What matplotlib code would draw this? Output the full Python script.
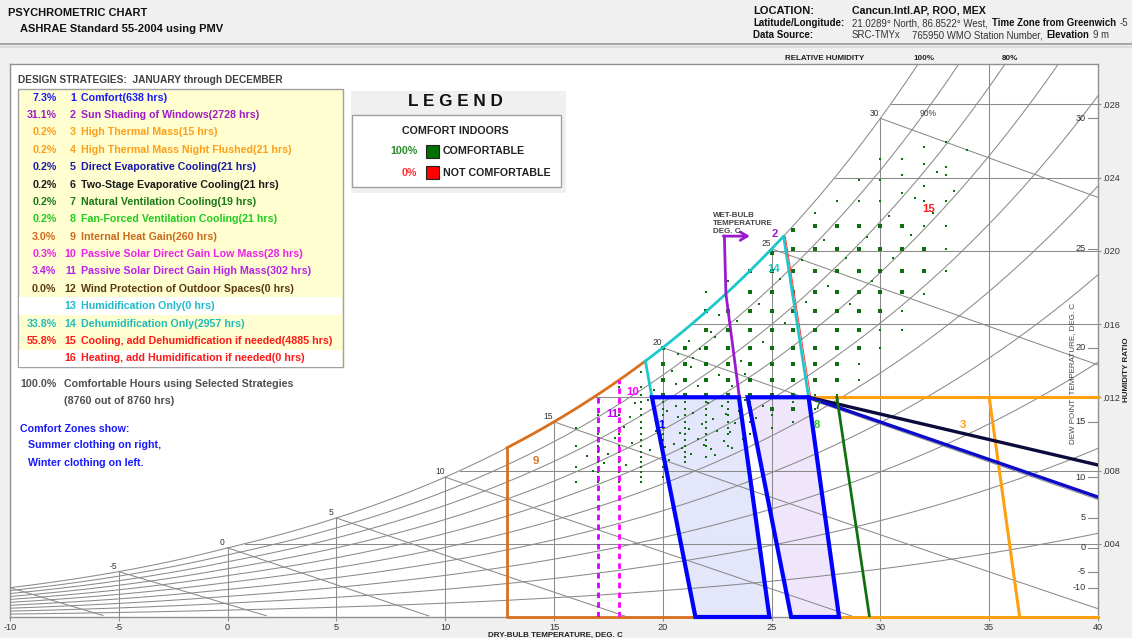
import numpy as np
import matplotlib
matplotlib.use('Agg')
import matplotlib.pyplot as plt
from matplotlib.patches import Rectangle, Polygon
from matplotlib import font_manager as fm

# ---------------- chart data ----------------
rh_levels = [0.1, 0.2, 0.3, 0.4, 0.5, 0.6, 0.7, 0.8, 0.9]
db_lines = [-5, 0, 5, 10, 15, 20, 25, 30, 35]
w_lines = [0.004, 0.008, 0.012, 0.016, 0.020, 0.024, 0.028]
w_labels = ['.004', '.008', '.012', '.016', '.020', '.024', '.028']
wb_lines = [-10, -5, 0, 5, 10, 15, 20, 25, 30]
sat_labels = [-5, 0, 5, 10, 15, 20, 25, 30]
dp_ticks = [30, 25, 20, 15, 10, 5, 0, -5, -10]
x_ticks = [-10, -5, 0, 5, 10, 15, 20, 25, 30, 35, 40]

strategy_pct = ['7.3%', '31.1%', '0.2%', '0.2%', '0.2%', '0.2%', '0.2%', '0.2%',
                '3.0%', '0.3%', '3.4%', '0.0%', '', '33.8%', '55.8%', '']
strategy_names = ['Comfort(638 hrs)', 'Sun Shading of Windows(2728 hrs)',
                  'High Thermal Mass(15 hrs)', 'High Thermal Mass Night Flushed(21 hrs)',
                  'Direct Evaporative Cooling(21 hrs)', 'Two-Stage Evaporative Cooling(21 hrs)',
                  'Natural Ventilation Cooling(19 hrs)', 'Fan-Forced Ventilation Cooling(21 hrs)',
                  'Internal Heat Gain(260 hrs)', 'Passive Solar Direct Gain Low Mass(28 hrs)',
                  'Passive Solar Direct Gain High Mass(302 hrs)',
                  'Wind Protection of Outdoor Spaces(0 hrs)', 'Humidification Only(0 hrs)',
                  'Dehumidification Only(2957 hrs)',
                  'Cooling, add Dehumidfication if needed(4885 hrs)',
                  'Heating, add Humidification if needed(0 hrs)']
strategy_colors = ['#1a1aff', '#a01ec8', '#ff9f1a', '#ff9f1a', '#1a1aa8', '#1a1a1a',
                   '#1a7a1a', '#22cc22', '#cc6a22', '#ee22ee', '#bb22ee', '#5a3a10',
                   '#22bbcc', '#22bbbb', '#ff1a1a', '#ff1a1a']
strategy_selected = [1, 1, 1, 1, 1, 1, 1, 1, 1, 1, 1, 1, 0, 1, 1, 0]

# design zones (dry bulb degC, humidity ratio kg/kg)
winter_db = [19.5, 23.5, 24.9, 21.5]
winter_w = [0.012, 0.012, 0.0, 0.0]
summer_db = [23.9, 26.7, 28.1, 25.9]
summer_w = [0.012, 0.012, 0.0, 0.0]
dehum_low_db = 19.5
dehum_sat_db = [19.2, 25.55]
dehum_right_db = 26.7
shade_db = [23.52, 22.9, 22.83]
shade_top_w = 0.0208
shade_arrow_db = 24.0
mass_db = [35.0, 36.4]
evap_end_w = 0.00655
twostage_end_w = 0.0083
natvent_db = [28.0, 29.5]
heatgain_db = 12.85
passive_low_db = 18.0
passive_high_db = 17.0
zone_top_w = 0.012

# hourly climate points (dry bulb, dew point) - frequent grid points
freq_db = [20, 20, 20, 20,
           21, 21, 21, 21,
           22, 22, 22, 22, 22, 22,
           23, 23, 23, 23, 23, 23,
           24, 24, 24, 24, 24, 24, 24, 24, 24,
           25, 25, 25, 25, 25, 25, 25, 25, 25, 25,
           26, 26, 26, 26, 26, 26, 26, 26, 26, 26, 26,
           27, 27, 27, 27, 27, 27, 27, 27, 27,
           28, 28, 28, 28, 28, 28, 28, 28, 28,
           29, 29, 29, 29, 29, 29, 29,
           30, 30, 30, 30, 30,
           31, 31, 31, 31,
           32, 32]
freq_dp = [17, 18, 19, 20,
           17, 18, 19, 20,
           17, 18, 19, 20, 21, 22,
           17, 18, 19, 20, 21, 22,
           16, 17, 18, 19, 20, 21, 22, 23, 24,
           16, 17, 18, 19, 20, 21, 22, 23, 24, 24.8,
           16, 17, 18, 19, 20, 21, 22, 23, 24, 25, 25.8,
           18, 19, 20, 21, 22, 23, 24, 25, 26,
           18, 19, 20, 21, 22, 23, 24, 25, 26,
           20, 21, 22, 23, 24, 25, 26,
           22, 23, 24, 25, 26,
           23, 24, 25, 26,
           24, 25]
# rarer hours (small dots)
rare_db = [16, 16, 16, 16,
           17, 17, 17, 17, 17, 17, 17, 17, 17, 17, 17, 17, 17, 17,
           18, 18, 18, 18, 18, 18, 18, 18, 18, 18, 18, 18, 18, 18, 18, 18,
           19, 19, 19, 19, 19, 19, 19, 19, 19, 19, 19, 19, 19, 19, 19, 19, 19, 19,
           20, 20, 20, 20, 20, 20, 20, 20, 20, 20, 20, 20,
           21, 21, 21, 21, 21, 21, 21, 21, 21, 21, 21, 21,
           22, 22, 22, 22, 22, 22, 22, 22, 22, 22,
           23, 23, 23, 23, 23, 23, 23, 23, 23,
           24, 24, 24, 24,
           25, 25,
           26, 26,
           27, 27, 27,
           28, 28, 28,
           29, 29, 29, 29,
           30, 30, 30, 30, 30,
           31, 31, 31, 31, 31,
           32, 32, 32, 32, 32, 32,
           33, 33, 33, 33, 33, 33, 33,
           34,
           19.6, 20.4, 20.6, 21.4, 21.6, 22.4, 22.6, 23.4, 23.6, 24.4, 24.6, 25.4, 25.6,
           26.4, 26.6, 27.4, 27.6, 28.4, 28.6, 29.4, 29.6, 30.4, 30.6, 31.4, 31.6,
           32.4, 32.6, 33.4,
           19.4, 19.7, 20.3, 20.5, 20.7, 20.8, 21.3, 21.4, 21.6, 21.8, 22.2, 22.3,
           22.5, 22.7, 22.8, 23.3, 23.5, 23.7, 24.3, 24.6, 18.5, 18.6, 17.5, 16.5,
           19.3, 18.3,
           19.8, 20.2, 20.9, 21.1, 21.2, 21.9, 22.1, 22.4, 22.9, 23.1, 23.2, 23.8,
           24.2, 19.9, 20.1, 20.6, 21.3, 21.7, 22.2, 22.6, 23.2, 23.8, 20.7, 21.2,
           19.3, 18.7, 18.2, 17.8, 17.3, 16.8]
rare_dp = [9.5, 11, 13, 14.5,
           9.5, 10, 10.5, 11, 11.5, 12, 12.5, 13, 13.5, 14, 14.5, 15, 15.5, 16,
           9.5, 10, 10.5, 11, 11.5, 12, 12.5, 13, 13.5, 14, 14.5, 15, 15.5, 16, 16.5, 17.5,
           9.5, 10, 10.5, 11, 11.5, 12, 12.5, 13, 13.5, 14, 14.5, 15, 15.5, 16, 16.5, 17, 17.5, 18.5,
           10, 11, 12, 12.5, 13, 13.5, 14, 14.5, 15, 15.5, 16, 16.5,
           11.5, 12, 12.5, 13, 13.5, 14, 14.5, 15, 15.5, 16, 16.5, 21,
           12, 13, 13.5, 14, 14.5, 15, 15.5, 16, 16.5, 23,
           13, 14, 14.5, 15, 15.5, 16, 16.5, 23, 23.5,
           14, 15, 15.5, 16.5,
           14.5, 15.5,
           15, 16.5,
           16, 17, 26.5,
           16.5, 17, 27,
           18, 19, 27, 27.8,
           20, 21, 27, 27.8, 28.6,
           21, 22, 27.3, 28, 28.6,
           22.9, 26, 27, 27.6, 28.4, 29,
           24, 25, 26, 27, 28, 28.3, 29.2,
           28.9,
           17.3, 18.6, 16.2, 19.4, 17.6, 20.6, 18.3, 21.5, 19.2, 22.4, 20.3, 23.6, 21.4,
           24.5, 22.5, 25.4, 23.3, 24.6, 22.4, 25.5, 23.5, 26.4, 24.6, 25.6, 27.1,
           26.5, 28.1, 27.4,
           12.6, 14.3, 11.7, 13.2, 15.4, 14.1, 12.3, 15.7, 13.6, 14.8, 12.7, 15.2,
           14.3, 16.2, 13.4, 14.9, 15.8, 13.6, 15.3, 16.2, 15.4, 13.3, 12.3, 12.1,
           16.6, 11.2,
           16.8, 15.8, 12.8, 16.9, 14.4, 13.1, 16.4, 12.2, 15.6, 14.2, 12.8, 16.6,
           14.6, 13.9, 12.9, 17.7, 18.8, 19.9, 20.9, 21.8, 17.6, 18.4, 19.6, 20.4,
           18.2, 16.4, 14.6, 13.7, 11.4, 10.6]

# ---------------- fonts ----------------
def has_font(name):
    try:
        fm.findfont(fm.FontProperties(family=name), fallback_to_default=False)
        return True
    except Exception:
        return False

NARROW = has_font('Liberation Sans Narrow')
FAM = 'Liberation Sans Narrow' if NARROW else 'Liberation Sans'
K = 1.0 if NARROW else 0.82
plt.rcParams['font.family'] = [FAM, 'DejaVu Sans']

def fs(v):
    return v * K

# ---------------- psychrometrics ----------------
P_ATM = 101217.0

def pws(t):
    t = np.asarray(t, dtype=float)
    T = t + 273.15
    ice = (-5674.5359 / T + 6.3925247 - 9.677843e-3 * T + 6.2215701e-7 * T ** 2
           + 2.0747825e-9 * T ** 3 - 9.484024e-13 * T ** 4 + 4.1635019 * np.log(T))
    wat = (-5800.2206 / T + 1.3914993 - 4.8640239e-2 * T + 4.1764768e-5 * T ** 2
           - 1.4452093e-8 * T ** 3 + 6.5459673 * np.log(T))
    return np.exp(np.where(t < 0, ice, wat))

def w_of_pw(pw):
    return 0.621945 * pw / (P_ATM - pw)

def w_sat(t):
    return w_of_pw(pws(t))

def w_rh(t, rh):
    return w_of_pw(rh * pws(t))

def w_dp(dp):
    return w_of_pw(pws(dp))

def w_wb(t, twb):
    ws = w_sat(twb)
    t = np.asarray(t, dtype=float)
    if twb >= 0:
        return ((2501 - 2.326 * twb) * ws - 1.006 * (t - twb)) / (2501 + 1.86 * t - 4.186 * twb)
    return ((2830 - 0.24 * twb) * ws - 1.006 * (t - twb)) / (2830 + 1.86 * t - 2.1 * twb)

_tg = np.linspace(-20, 45, 6501)
_wg = w_sat(_tg)

def t_sat(w):
    return np.interp(w, _wg, _tg)

# ---------------- figure ----------------
W_PX, H_PX = 1132, 638
fig = plt.figure(figsize=(W_PX / 100, H_PX / 100), dpi=100)
fig.patch.set_facecolor('#f0f0f0')

AX_L, AX_R, AX_T, AX_B = 10, 1098, 64, 617
W_TOP = 0.0302
ax = fig.add_axes([AX_L / W_PX, 1 - AX_B / H_PX, (AX_R - AX_L) / W_PX, (AX_B - AX_T) / H_PX])
ax.set_facecolor('white')
ax.set_xlim(-10, 40)
ax.set_ylim(0, W_TOP)

GRAY = '#8a8a8a'
glw = 0.75

# saturation curve
ts = np.linspace(-10, t_sat(W_TOP), 400)
ax.plot(ts, w_sat(ts), color=GRAY, lw=glw, zorder=2)
# RH curves
tt = np.linspace(-10, 40, 400)
for rh in rh_levels:
    ax.plot(tt, w_rh(tt, rh), color=GRAY, lw=glw, zorder=2)
# dry bulb verticals
for t in db_lines:
    ax.plot([t, t], [0, min(float(w_sat(t)), W_TOP)], color=GRAY, lw=glw, zorder=2)
# humidity ratio horizontals
for w in w_lines:
    ax.plot([t_sat(w), 40], [w, w], color=GRAY, lw=glw, zorder=2)
# wet bulb lines
for twb in wb_lines:
    tl = np.linspace(twb, 40, 200)
    wl = w_wb(tl, twb)
    m = wl >= 0
    ax.plot(tl[m], wl[m], color=GRAY, lw=glw, zorder=2)

# saturation labels
for t in sat_labels:
    ax.annotate(str(t), xy=(t, w_sat(t)), xytext=(-4, 0.5), textcoords='offset points',
                ha='center', va='bottom', fontsize=fs(7.5), color='#333333', zorder=6)

# comfort zone fills
ax.add_patch(Polygon(list(zip(winter_db, winter_w)), closed=True, facecolor='#e4e6fb',
                     edgecolor='none', zorder=1))
ax.add_patch(Polygon(list(zip(summer_db, summer_w)), closed=True, facecolor='#f0e6fb',
                     edgecolor='none', zorder=1))

# climate hours
GREEN = '#0f6e0f'
ax.scatter(freq_db, w_dp(np.array(freq_dp, float)), marker='s', s=8, c=GREEN, linewidths=0, zorder=3)
ax.scatter(rare_db, w_dp(np.array(rare_dp, float)), marker='s', s=2.2, c=GREEN, linewidths=0, zorder=3)

# ---- design strategy boundaries ----
BLUE = '#0000ff'
CYAN = '#1cc8cc'
PURPLE = '#9a1ad0'
ORANGE = '#ffa010'
BROWN = '#d8701e'

# 9 internal heat gain
tb = np.linspace(heatgain_db, dehum_sat_db[0], 80)
ax.plot([winter_db[3], heatgain_db, heatgain_db],
        [0, 0, float(w_sat(heatgain_db))], color=BROWN, lw=2, zorder=4, clip_on=False)
ax.plot(tb, w_sat(tb), color=BROWN, lw=2, zorder=4)
# 10 / 11 passive solar
ax.plot([passive_low_db, passive_low_db], [0, float(w_sat(passive_low_db))], color='#ff00ff',
        lw=2, ls=(0, (2, 1.5)), zorder=4)
ax.plot([passive_high_db, passive_high_db], [0, float(w_sat(passive_high_db))], color='#d200ff',
        lw=2, ls=(0, (2, 1.5)), zorder=4)
# 14 dehumidification
td = np.linspace(dehum_sat_db[0], dehum_sat_db[1], 80)
ax.plot([dehum_low_db] + list(td) + [dehum_right_db],
        [zone_top_w] + list(w_sat(td)) + [zone_top_w], color=CYAN, lw=2, zorder=4)
ax.plot([dehum_sat_db[1] + 0.08, dehum_right_db + 0.1], [float(w_sat(dehum_sat_db[1])), zone_top_w],
        color='#ff4040', lw=0.7, zorder=4)
# 3/4 thermal mass
ax.plot([dehum_right_db, 40], [zone_top_w, zone_top_w], color=ORANGE, lw=2.2, zorder=4, clip_on=False)
ax.plot(mass_db, [zone_top_w, 0], color=ORANGE, lw=2.2, zorder=4)
ax.plot([summer_db[2], 40], [0, 0], color=ORANGE, lw=2.2, zorder=4, clip_on=False)
# 5 / 6 evaporative cooling
ax.plot([dehum_right_db, 40], [zone_top_w, twostage_end_w], color='#0a0a3c', lw=2.4, zorder=4)
ax.plot([dehum_right_db, 40], [zone_top_w, evap_end_w], color='#0a0ac8', lw=2.4, zorder=4)
# 7 natural ventilation
ax.plot(natvent_db, [zone_top_w, 0], color='#107010', lw=2, zorder=4)
# 2 sun shading
ax.plot(shade_db, [zone_top_w, float(w_sat(shade_db[1])), shade_top_w], color=PURPLE, lw=2, zorder=4)
ax.annotate('', xy=(shade_arrow_db, shade_top_w), xytext=(shade_db[2] - 0.05, shade_top_w),
            arrowprops=dict(arrowstyle='->,head_length=0.5,head_width=0.3', color=PURPLE, lw=2,
                            shrinkA=0, shrinkB=0), zorder=4)
# 1 comfort zones
ax.add_patch(Polygon(list(zip(winter_db, winter_w)), closed=True, facecolor='none',
                     edgecolor=BLUE, lw=3, zorder=5, clip_on=False))
ax.add_patch(Polygon(list(zip(summer_db, summer_w)), closed=True, facecolor='none',
                     edgecolor=BLUE, lw=3, zorder=5, clip_on=False))

# zone labels
zone_lab = [('15', 32.2, 0.0223, '#ff1a1a'), ('14', 25.1, 0.0190, CYAN), ('2', 25.15, 0.0209, PURPLE),
            ('10', 18.6, 0.0123, '#ff00ff'), ('11', 17.7, 0.0111, '#c000f0'), ('9', 14.15, 0.0085, BROWN),
            ('3', 33.8, 0.0105, ORANGE), ('7', 27.1, 0.0115, '#107010'), ('8', 27.1, 0.0105, '#22cc22'),
            ('1', 19.95, 0.0105, BLUE)]
for s, x, y, c in zone_lab:
    ax.text(x, y, s, color=c, fontsize=fs(10), fontweight='bold', ha='center', va='center', zorder=6)

ax.text(22.3, 0.0215, 'WET-BULB\nTEMPERATURE\nDEG. C', fontsize=fs(7), fontweight='bold',
        color='#444444', ha='left', va='center', linespacing=1.15, zorder=6)
ax.text(32.2, 0.0275, '90%', fontsize=fs(7.5), color='#444444', ha='center', va='center', zorder=6)

# dew point scale (inside right edge)
for dp in dp_ticks:
    w = float(w_dp(dp))
    ax.plot([39.55, 40], [w, w], color=GRAY, lw=0.8, zorder=6)
    ax.text(39.45, w, str(dp), fontsize=fs(8), color='#333333', ha='right', va='center', zorder=6)
ax.text(38.85, 0.0133, 'DEW POINT  TEMPERATURE, DEG. C', rotation=90, fontsize=fs(7),
        color='#444444', ha='center', va='center', zorder=6)

# axes styling
for sp in ax.spines.values():
    sp.set_color('#909090')
    sp.set_linewidth(1)
ax.set_xticks(x_ticks)
ax.set_xticklabels([str(v) for v in x_ticks])
ax.tick_params(axis='x', length=3, width=0.8, color='#909090', labelsize=fs(8),
               labelcolor='#333333', pad=1)
ax.yaxis.tick_right()
ax.set_yticks(w_lines)
ax.set_yticklabels(w_labels)
ax.tick_params(axis='y', length=2, width=0.8, color='#909090', labelsize=fs(8),
               labelcolor='#333333', pad=1)

# ---------------- overlay (pixel coordinates) ----------------
ov = fig.add_axes([0, 0, 1, 1], facecolor='none')
ov.set_xlim(0, W_PX)
ov.set_ylim(H_PX, 0)
ov.axis('off')

# header
ov.text(8, 13, 'PSYCHROMETRIC CHART', fontsize=fs(9.8), fontweight='bold', color='#111111', va='center')
ov.text(20, 29, 'ASHRAE Standard 55-2004 using PMV', fontsize=fs(9.8), fontweight='bold',
        color='#111111', va='center')
ov.plot([0, W_PX], [44, 44], color='#a8a8a8', lw=1.5)
ov.plot([0, W_PX], [46.5, 46.5], color='#d8d8d8', lw=1.2)

def chain(parts, x, y, size):
    prev = None
    for s, bold in parts:
        kw = dict(fontsize=fs(size), fontweight='bold' if bold else 'normal', va='center',
                  color='#111111' if bold else '#333333')
        if prev is None:
            prev = ov.text(x, y, s, ha='left', **kw)
        else:
            prev = ov.annotate(s, xy=(1, 0.5), xycoords=prev, xytext=(2.8, 0),
                               textcoords='offset points', ha='left', **kw)
    return prev

ov.text(753, 10.5, 'LOCATION:', fontsize=fs(9.8), fontweight='bold', color='#111111', va='center')
ov.text(852, 10.5, 'Cancun.Intl.AP, ROO, MEX', fontsize=fs(9.3), fontweight='bold', color='#111111',
        va='center')
ov.text(753, 23.5, 'Latitude/Longitude:', fontsize=fs(8.6), fontweight='bold', color='#111111', va='center')
chain([('21.0289° North, 86.8522° West,', False), ('Time Zone from Greenwich', True), ('-5', False)],
      852, 23.5, 8.5)
ov.text(753, 35.5, 'Data Source:', fontsize=fs(8.6), fontweight='bold', color='#111111', va='center')
chain([('SRC-TMYx', False)], 852, 35.5, 8.5)
chain([('765950 WMO Station Number,', False), ('Elevation', True), ('9 m', False)], 912, 35.5, 8.5)

# relative humidity top labels
ov.text(825, 59, 'RELATIVE HUMIDITY', fontsize=fs(7), fontweight='bold', color='#222222',
        ha='center', va='center')
ov.text(924, 59, '100%', fontsize=fs(7), fontweight='bold', color='#222222', ha='center', va='center')
ov.text(1010, 59, '80%', fontsize=fs(7), fontweight='bold', color='#222222', ha='center', va='center')

# right / bottom axis titles
ov.text(1126, 370, 'HUMIDITY RATIO', rotation=90, fontsize=fs(7), fontweight='bold',
        color='#222222', ha='center', va='center')
ov.text(555, 635, 'DRY-BULB TEMPERATURE, DEG. C', fontsize=fs(7), fontweight='bold',
        color='#222222', ha='center', va='center')

# strategies panel
ov.text(18, 80, 'DESIGN STRATEGIES:  JANUARY through DECEMBER', fontsize=fs(8.9), fontweight='bold',
        color='#404040', va='center')
ov.add_patch(Rectangle((18, 89), 325, 278, facecolor='#fefed0', edgecolor='#a0a0a0', lw=1))
row0, drow = 97.7, 17.37
for i in range(16):
    y = row0 + drow * i
    if not strategy_selected[i]:
        ov.add_patch(Rectangle((18.7, y - drow / 2), 323.6, drow, facecolor='white',
                               edgecolor='none'))
    c = strategy_colors[i]
    ov.text(56.5, y, strategy_pct[i], fontsize=fs(9.3), fontweight='bold', color=c, ha='right', va='center')
    ov.text(76, y, str(i + 1), fontsize=fs(9.3), fontweight='bold', color=c, ha='right', va='center')
    ov.text(81, y, strategy_names[i], fontsize=fs(9.3), fontweight='bold', color=c, ha='left', va='center')

ov.text(56.5, 384, '100.0%', fontsize=fs(9.3), fontweight='bold', color='#505050', ha='right', va='center')
ov.text(64, 384, 'Comfortable Hours using Selected Strategies', fontsize=fs(9.3), fontweight='bold',
        color='#505050', va='center')
ov.text(64, 401.5, '(8760 out of 8760 hrs)', fontsize=fs(9.3), fontweight='bold', color='#505050',
        va='center')
ov.text(20, 428.5, 'Comfort Zones show:', fontsize=fs(9.3), fontweight='bold', color='#1a1aff', va='center')
ov.text(28.5, 445.5, 'Summer clothing on right,', fontsize=fs(9.3), fontweight='bold', color='#1a1aff',
        va='center')
ov.text(28.5, 462.5, 'Winter clothing on left.', fontsize=fs(9.3), fontweight='bold', color='#1a1aff',
        va='center')

# legend box
ov.add_patch(Rectangle((351, 91), 215, 102, facecolor='#f0f0f0', edgecolor='none'))
ov.text(455, 101, 'L E G E N D', fontsize=fs(15), fontweight='bold', color='#111111',
        ha='center', va='center')
ov.add_patch(Rectangle((352, 114.5), 208.5, 72, facecolor='white', edgecolor='#a0a0a0', lw=1))
ov.text(455, 130.5, 'COMFORT INDOORS', fontsize=fs(9.3), fontweight='bold', color='#222222',
        ha='center', va='center')
ov.text(417.5, 151.5, '100%', fontsize=fs(9.3), fontweight='bold', color='#2a8a2a', ha='right', va='center')
ov.add_patch(Rectangle((426, 145), 13, 13, facecolor='#007000', edgecolor='#222222', lw=0.8))
ov.text(443, 151.5, 'COMFORTABLE', fontsize=fs(9.3), fontweight='bold', color='#222222', va='center')
ov.text(417.5, 172.5, '0%', fontsize=fs(9.3), fontweight='bold', color='#ff3030', ha='right', va='center')
ov.add_patch(Rectangle((426, 166), 13, 13, facecolor='#ff0000', edgecolor='#222222', lw=0.8))
ov.text(443, 172.5, 'NOT COMFORTABLE', fontsize=fs(9.3), fontweight='bold', color='#222222', va='center')

fig.savefig('out.png', dpi=100, facecolor=fig.get_facecolor())
